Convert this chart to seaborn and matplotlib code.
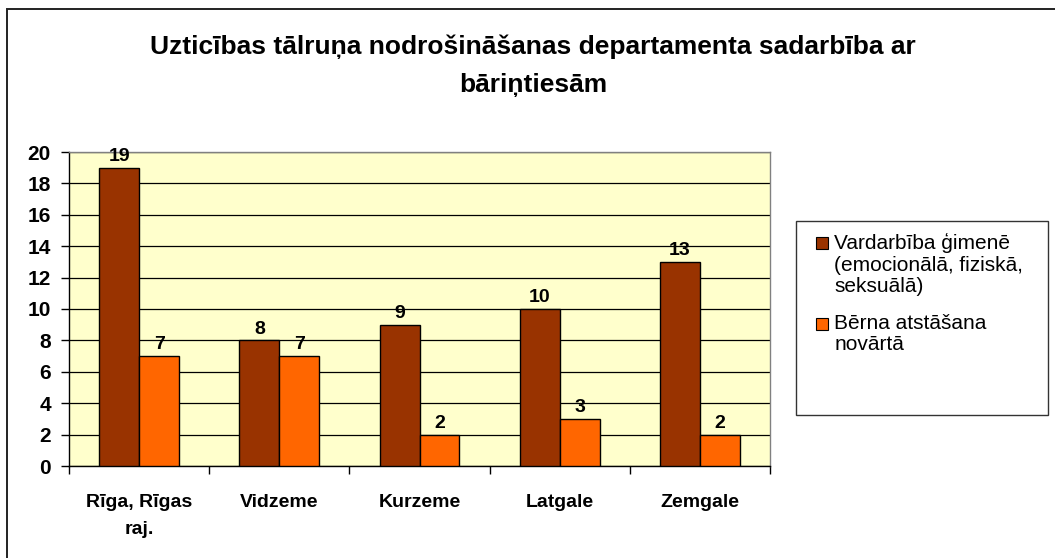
import matplotlib
matplotlib.use("Agg")
import matplotlib.pyplot as plt
import seaborn as sns
import pandas as pd
from matplotlib.patches import Rectangle
from matplotlib.legend_handler import HandlerPatch

categories = ["Rīga, Rīgas\nraj.", "Vidzeme", "Kurzeme", "Latgale", "Zemgale"]
series_names = ["Vardarbība ģimenē\n(emocionālā, fiziskā,\nseksuālā)", "Bērna atstāšana\nnovārtā"]
violence = [19, 8, 9, 10, 13]
neglect = [7, 7, 2, 3, 2]
yticks = [0, 2, 4, 6, 8, 10, 12, 14, 16, 18, 20]
title = "Uzticības tālruņa nodrošināšanas departamenta sadarbība ar\nbāriņtiesām"

df = pd.DataFrame({
    "region": categories * 2,
    "series": [series_names[0]] * len(categories) + [series_names[1]] * len(categories),
    "value": violence + neglect,
})

sns.set_style("white")
plt.rcParams["font.family"] = ["Liberation Sans", "DejaVu Sans"]
plt.rcParams["text.color"] = "black"
plt.rcParams["xtick.color"] = "black"
plt.rcParams["ytick.color"] = "black"

W, H = 1055, 558
fig = plt.figure(figsize=(W / 100, H / 100), dpi=100)
ax = fig.add_axes([69 / W, 1 - 466 / H, 701 / W, 314 / H])

sns.barplot(data=df, x="region", y="value", hue="series",
            palette=["#993300", "#FF6600"], width=0.57, dodge=True,
            edgecolor="black", linewidth=1.0, saturation=1, ax=ax, zorder=3)

ax.set_facecolor("#FFFFCC")
ax.set_ylim(0, 20)
ax.set_xlim(-0.5, len(categories) - 0.5)
ax.set_yticks(yticks)
ax.yaxis.grid(True, color="black", linewidth=0.9, zorder=0)
ax.set_axisbelow(True)
for sp in ax.spines.values():
    sp.set_color("#808080")
    sp.set_linewidth(1.0)
ax.spines["left"].set_color("black")
ax.spines["bottom"].set_color("black")

ax.set_xlabel("")
ax.set_ylabel("")
ax.tick_params(axis="y", which="major", direction="out", length=6, width=1, color="black",
               labelsize=15, pad=7, left=True)
for lab in ax.get_yticklabels():
    lab.set_fontweight("bold")
ax.set_xticks(range(len(categories)))
ax.set_xticklabels(categories, fontsize=14, fontweight="bold", linespacing=1.75)
ax.tick_params(axis="x", which="major", length=0, pad=20)
ax.set_xticks([i - 0.5 for i in range(len(categories) + 1)], minor=True)
ax.tick_params(axis="x", which="minor", direction="out", length=6, width=1, color="black", bottom=True)

for cont in ax.containers:
    ax.bar_label(cont, fmt="%d", fontsize=14, fontweight="bold", padding=2)

LEG_FS = 15
SQ = 12  # px square


def square(legend, orig_handle, xdescent, ydescent, width, height, fontsize):
    return Rectangle((-xdescent, -ydescent + height - SQ * 0.72 - 3.0), SQ * 0.72, SQ * 0.72)


leg = ax.legend(loc="upper left", bbox_to_anchor=((816 - 69) / 701, (466 - 233) / 314),
                frameon=False, fontsize=LEG_FS, handlelength=SQ * 0.72 / LEG_FS,
                handleheight=1.0, handletextpad=0.3, labelspacing=0.85, borderpad=0,
                borderaxespad=0,
                handler_map={Rectangle: HandlerPatch(patch_func=square)})
for t in leg.get_texts():
    t.set_linespacing(1.17)
for h in leg.legend_handles:
    h.set_edgecolor("black")
    h.set_linewidth(0.8)
for col in leg._legend_handle_box.get_children():
    for hp in col.get_children():
        hp.align = "top"

fig.patches.append(Rectangle((796 / W, 1 - 415 / H), (1048 - 796) / W, (415 - 221) / H,
                             transform=fig.transFigure, fill=False,
                             edgecolor="#333333", linewidth=1.0))

fig.text(533 / W, 1 - 66 / H, title, ha="center", va="center",
         fontsize=19, fontweight="bold", linespacing=1.72, color="black")

fig.patches.append(Rectangle((7 / W, -0.1), 1.2, 1 - 9 / H + 0.1,
                             transform=fig.transFigure, fill=False,
                             edgecolor="#222222", linewidth=1.4))

fig.savefig("out.png", dpi=100)
